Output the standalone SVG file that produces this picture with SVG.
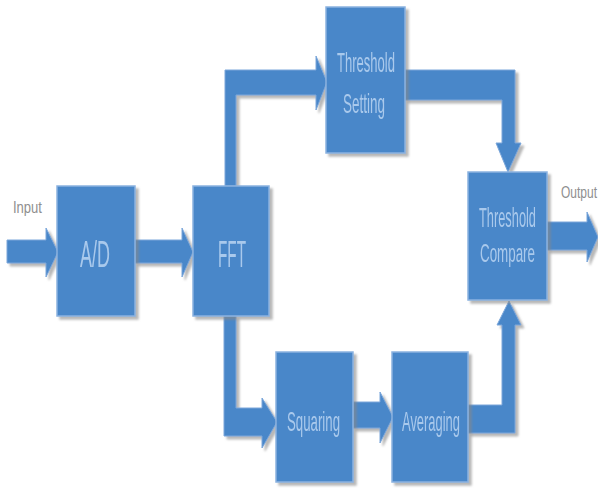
<svg xmlns="http://www.w3.org/2000/svg" width="598" height="489" viewBox="0 0 598 489">
<defs>
<filter id="sh" x="-10%" y="-10%" width="130%" height="130%">
<feDropShadow dx="3" dy="3" stdDeviation="1.2" flood-color="#888" flood-opacity="0.6"/>
</filter>
</defs>
<style>
.box{fill:#4a87c9;stroke:#8bb2e0;stroke-width:1.5}
.arr{fill:#4a87c9;stroke:#7aa6da;stroke-width:1}
.lbl{font-family:"Liberation Sans",Arial,sans-serif;fill:#a9c9ec;text-anchor:start}
.io{font-family:"Liberation Sans",Arial,sans-serif;fill:#8f8f8f}
</style>
<rect width="598" height="489" fill="#ffffff"/>
<g id="connectors" filter="url(#sh)">
<polygon class="arr" points="7,240 46,240 46,228 58,252 46,277 46,263 7,263"/>
<polygon class="arr" points="135,240 182,240 182,228 193,252 182,277 182,263 135,263"/>
<polygon class="arr" points="225,186 225,70 316,70 316,56 327,82 316,110 316,95 236,95 236,186"/>
<polygon class="arr" points="405,70 515,70 515,143 521,143 508,172 496,143 502,143 502,100 405,100"/>
<polygon class="arr" points="224,316 236,316 236,408 262,408 262,398 277,422 262,448 262,436 224,436"/>
<polygon class="arr" points="353,402 380,402 380,392 393,417 380,443 380,428 353,428"/>
<polygon class="arr" points="468,405 502,405 502,325 497,325 509,301 521,325 515,325 515,433 468,433"/>
<polygon class="arr" points="547,222 587,222 587,212 598,237 587,262 587,250 547,250"/>
</g>
<g id="input-label"><text class="io" x="13" y="213" font-size="16" textLength="29" lengthAdjust="spacingAndGlyphs">Input</text></g>
<g id="output-label"><text class="io" transform="translate(561,198) scale(1,1.33)" x="0" y="0" font-size="12">Output</text></g>
<g id="ad" filter="url(#sh)">
<rect class="box" x="57" y="186" width="78" height="130"/>
<text class="lbl" x="80" y="267" font-size="36" textLength="30" lengthAdjust="spacingAndGlyphs">A/D</text>
</g>
<g id="fft" filter="url(#sh)">
<rect class="box" x="193" y="186" width="76" height="130"/>
<text class="lbl" x="218" y="267" font-size="36" textLength="28" lengthAdjust="spacingAndGlyphs">FFT</text>
</g>
<g id="threshold-setting" filter="url(#sh)">
<rect class="box" x="326" y="7" width="79" height="146"/>
<text class="lbl" x="337" y="72" font-size="28" textLength="58" lengthAdjust="spacingAndGlyphs">Threshold</text>
<text class="lbl" x="343" y="113" font-size="28" textLength="42" lengthAdjust="spacingAndGlyphs">Setting</text>
</g>
<g id="threshold-compare" filter="url(#sh)">
<rect class="box" x="468" y="172" width="79" height="128"/>
<text class="lbl" transform="translate(479,227) scale(1,1.4)" x="0" y="0" font-size="20" textLength="57" lengthAdjust="spacingAndGlyphs">Threshold</text>
<text class="lbl" x="480" y="262" font-size="26" textLength="55" lengthAdjust="spacingAndGlyphs">Compare</text>
</g>
<g id="squaring" filter="url(#sh)">
<rect class="box" x="276" y="352" width="77" height="130"/>
<text class="lbl" x="287" y="431" font-size="28" textLength="53" lengthAdjust="spacingAndGlyphs">Squaring</text>
</g>
<g id="averaging" filter="url(#sh)">
<rect class="box" x="392" y="352" width="76" height="130"/>
<text class="lbl" x="402" y="431" font-size="28" textLength="58" lengthAdjust="spacingAndGlyphs">Averaging</text>
</g>
</svg>
